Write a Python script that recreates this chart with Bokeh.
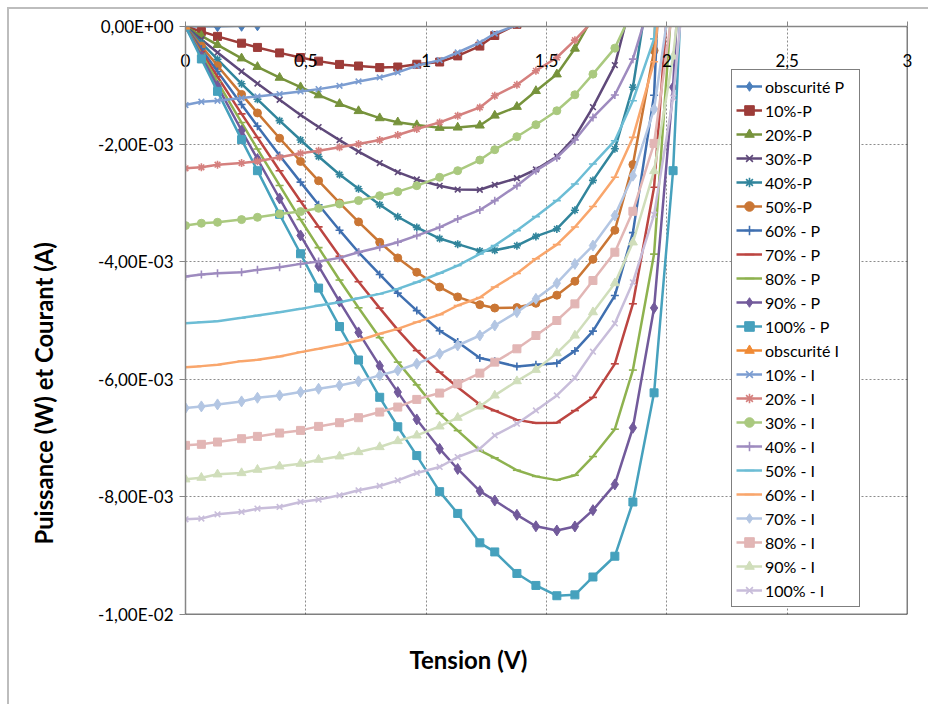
import numpy as np
from bokeh.plotting import figure
from bokeh.models import FixedTicker, Span, Title, LinearAxis
from bokeh.embed import file_html
from bokeh.resources import INLINE

# ---------------- data (voltage in V, power in mW, current in mA) ----------------
V = [0.0, 0.066, 0.133, 0.233, 0.299, 0.391, 0.478, 0.553, 0.640, 0.719, 0.807, 0.882,
     0.961, 1.056, 1.131, 1.223, 1.285, 1.377, 1.456, 1.543, 1.618, 1.693, 1.784, 1.859,
     1.947, 2.026, 2.100]

P_OBS = [0.0, 0.003, 0.006, 0.012, 0.02, 0.2, 0.5, 0.8, 1.2]
P_10 = [0.0, -0.085, -0.168, -0.284, -0.356, -0.449, -0.528, -0.589, -0.645, -0.672, -0.699,
        -0.689, -0.642, -0.604, -0.500, -0.333, -0.153, 0.037, 0.728]
P_20 = [0.0, -0.158, -0.313, -0.541, -0.686, -0.870, -1.031, -1.168, -1.315, -1.437, -1.558,
        -1.628, -1.676, -1.722, -1.717, -1.683, -1.514, -1.365, -1.096, -0.813, -0.375, 0.163,
        1.070]
P_30 = [0.0, -0.221, -0.443, -0.765, -0.970, -1.247, -1.505, -1.710, -1.932, -2.129, -2.322,
        -2.478, -2.601, -2.709, -2.773, -2.777, -2.692, -2.581, -2.432, -2.211, -1.879, -1.371,
        -0.657, 0.537, 2.921]
P_40 = [0.0, -0.279, -0.558, -0.974, -1.238, -1.601, -1.930, -2.211, -2.518, -2.760, -3.030,
        -3.236, -3.417, -3.606, -3.702, -3.816, -3.806, -3.728, -3.570, -3.442, -3.124, -2.617,
        -2.080, -1.032, 1.238, 5.065]
P_50 = [0.0, -0.332, -0.667, -1.155, -1.470, -1.900, -2.295, -2.624, -3.001, -3.323, -3.669,
        -3.936, -4.179, -4.431, -4.599, -4.731, -4.788, -4.780, -4.707, -4.569, -4.333, -3.960,
        -3.465, -2.348, -0.409, 8.104]
P_60 = [0.0, -0.381, -0.765, -1.326, -1.695, -2.194, -2.647, -3.031, -3.464, -3.840, -4.217,
        -4.535, -4.832, -5.174, -5.367, -5.638, -5.693, -5.783, -5.751, -5.725, -5.517, -5.181,
        -4.576, -3.506, -1.168, 6.078]
P_70 = [0.0, -0.426, -0.855, -1.486, -1.888, -2.453, -2.972, -3.407, -3.907, -4.340, -4.789,
        -5.159, -5.512, -5.878, -6.136, -6.427, -6.534, -6.690, -6.744, -6.737, -6.532, -6.308,
        -5.737, -4.716, -2.734, 1.641, 10.5]
P_80 = [0.0, -0.469, -0.940, -1.633, -2.084, -2.703, -3.283, -3.761, -4.312, -4.784, -5.292,
        -5.708, -6.095, -6.583, -6.872, -7.210, -7.335, -7.547, -7.651, -7.715, -7.632, -7.314,
        -6.849, -5.843, -3.871, 0.729, 10.5]
P_90 = [0.0, -0.506, -1.013, -1.769, -2.254, -2.925, -3.554, -4.074, -4.678, -5.203, -5.772,
        -6.218, -6.683, -7.182, -7.525, -7.902, -8.062, -8.305, -8.500, -8.571, -8.503, -8.225,
        -7.787, -6.824, -4.786, -1.033, 4.62]
P_100 = [0.0, -0.552, -1.103, -1.924, -2.452, -3.195, -3.865, -4.449, -5.103, -5.672, -6.306,
         -6.807, -7.297, -7.911, -8.281, -8.781, -8.936, -9.302, -9.506, -9.681, -9.666, -9.362,
         -9.009, -8.087, -6.230, -2.452, 3.99]

I_OBS = [0.0, 0.05, 0.12, 0.25, 0.4, 0.6, 0.9, 1.2, 1.6]
I_10 = [-1.336, -1.280, -1.263, -1.217, -1.189, -1.149, -1.104, -1.065, -1.008, -0.934, -0.866,
        -0.781, -0.668, -0.572, -0.442, -0.272, -0.119, 0.027, 0.5]
I_20 = [-2.412, -2.395, -2.350, -2.322, -2.293, -2.225, -2.157, -2.112, -2.055, -1.999, -1.931,
        -1.846, -1.744, -1.631, -1.518, -1.376, -1.178, -0.991, -0.753, -0.527, -0.232, 0.096,
        0.6]
I_30 = [-3.386, -3.346, -3.330, -3.284, -3.245, -3.188, -3.148, -3.092, -3.018, -2.961, -2.877,
        -2.809, -2.707, -2.565, -2.452, -2.271, -2.095, -1.874, -1.670, -1.433, -1.161, -0.810,
        -0.368, 0.289, 1.5]
I_40 = [-4.253, -4.219, -4.196, -4.179, -4.139, -4.094, -4.037, -3.998, -3.935, -3.839, -3.754,
        -3.669, -3.556, -3.415, -3.273, -3.120, -2.962, -2.707, -2.452, -2.231, -1.931, -1.546,
        -1.166, -0.555, 0.636, 2.5]
I_50 = [-5.045, -5.028, -5.011, -4.955, -4.915, -4.858, -4.802, -4.745, -4.689, -4.621, -4.547,
        -4.462, -4.349, -4.196, -4.066, -3.868, -3.726, -3.471, -3.233, -2.961, -2.678, -2.339,
        -1.942, -1.263, -0.21, 4.0]
I_60 = [-5.793, -5.776, -5.753, -5.691, -5.668, -5.612, -5.538, -5.481, -5.413, -5.340, -5.226,
        -5.142, -5.028, -4.900, -4.745, -4.61, -4.43, -4.20, -3.95, -3.71, -3.41, -3.06,
        -2.565, -1.886, -0.6, 3.0]
I_70 = [-6.489, -6.461, -6.427, -6.376, -6.314, -6.274, -6.217, -6.161, -6.104, -6.036, -5.934,
        -5.849, -5.736, -5.566, -5.425, -5.255, -5.085, -4.858, -4.632, -4.366, -4.037, -3.726,
        -3.216, -2.537, -1.404, 0.81, 5.0]
I_80 = [-7.123, -7.106, -7.067, -7.010, -6.971, -6.914, -6.869, -6.801, -6.738, -6.653, -6.557,
        -6.472, -6.342, -6.234, -6.076, -5.895, -5.708, -5.481, -5.255, -5.000, -4.717, -4.320,
        -3.839, -3.143, -1.988, 0.36, 5.0]
I_90 = [-7.701, -7.673, -7.616, -7.594, -7.537, -7.480, -7.435, -7.367, -7.310, -7.237, -7.152,
        -7.050, -6.954, -6.801, -6.653, -6.461, -6.274, -6.031, -5.838, -5.555, -5.255, -4.858,
        -4.365, -3.671, -2.458, -0.51, 2.2]
I_100 = [-8.381, -8.369, -8.296, -8.256, -8.199, -8.171, -8.086, -8.046, -7.973, -7.888, -7.814,
         -7.718, -7.593, -7.491, -7.322, -7.180, -6.954, -6.755, -6.529, -6.274, -5.974, -5.53,
         -5.05, -4.35, -3.20, -1.21, 1.9]

LABELS = ["obscurité P", "10%-P", "20%-P", "30%-P", "40%-P", "50%-P", "60% - P", "70% - P",
          "80% - P", "90% - P", "100% - P", "obscurité I", "10% - I", "20% - I", "30% - I",
          "40% - I", "50% - I", "60% - I", "70% - I", "80% - I", "90% - I", "100% - I"]
VALUES = [P_OBS, P_10, P_20, P_30, P_40, P_50, P_60, P_70, P_80, P_90, P_100,
          I_OBS, I_10, I_20, I_30, I_40, I_50, I_60, I_70, I_80, I_90, I_100]
COLORS = ["#4A7EBB", "#9D3C39", "#77933C", "#5F497A", "#31859C", "#CA7634", "#3F6FB0",
          "#BC4541", "#8EB24F", "#725A9B", "#46A1BD", "#F08A34", "#7C9DD1", "#D5807E",
          "#AAC97F", "#9E8BBF", "#6CBDD5", "#F9A66C", "#B3C6E3", "#E2B6B5", "#D0DEBB", "#C8BDDA"]
MARKERS = ["diamond", "square", "triangle", "x", "asterisk", "circle", "cross", "dash",
           "dash", "diamond", "square", "triangle", "x", "asterisk", "circle", "cross",
           "dash", "dash", "diamond", "square", "triangle", "x"]
MARKER_SIZES = {"diamond": 11, "square": 8, "triangle": 9, "x": 8, "asterisk": 8,
                "circle": 8, "cross": 8, "dash": 8}

XTICKS = [0, 0.5, 1, 1.5, 2, 2.5, 3]
XTICK_LABELS = ["0", "0,5", "1", "1,5", "2", "2,5", "3"]
YTICKS = [-0.01, -0.008, -0.006, -0.004, -0.002, 0]
YTICK_LABELS = ["-1,00E-02", "-8,00E-03", "-6,00E-03", "-4,00E-03", "-2,00E-03", "0,00E+00"]

FONT = "Lato"
AXIS_GRAY = "#868686"
FRAME_GRAY = "#bdbdbd"

p = figure(width=928, height=704, x_range=(0, 3), y_range=(-0.01, 0),
           output_backend="svg", toolbar_location=None, x_axis_location="above",
           min_border_left=185, min_border_right=21, min_border_top=26, min_border_bottom=90,
           background_fill_color="white", border_fill_color="white", border_fill_alpha=0,
           outline_line_color=None)

# outer chart border (drawn by the page element behind the transparent canvas border)
p.styles = {
    "background-color": "white",
    "background-image": f"linear-gradient({FRAME_GRAY}, {FRAME_GRAY}), "
                        f"linear-gradient({FRAME_GRAY}, {FRAME_GRAY})",
    "background-size": "2px 700px, 930px 2px",
    "background-position": "7px 7px, 7px 7px",
    "background-repeat": "no-repeat",
}

# grid
p.xgrid.ticker = FixedTicker(ticks=[0.5, 1, 1.5, 2, 2.5])
p.ygrid.ticker = FixedTicker(ticks=[-0.008, -0.006, -0.004, -0.002])
for g in (p.xgrid, p.ygrid):
    g.grid_line_color = "#8c8c8c"
    g.grid_line_dash = "2 2"
    g.grid_line_width = 1

# x axis on top, labels pushed below the axis line (inside the plot area)
xa = p.xaxis[0]
xa.ticker = FixedTicker(ticks=XTICKS)
xa.major_label_overrides = {t: s for t, s in zip(XTICKS, XTICK_LABELS)}
xa.major_label_text_font = FONT
xa.major_label_text_font_size = "17px"
xa.major_label_text_color = "black"
xa.major_label_standoff = -45
xa.axis_line_color = AXIS_GRAY
xa.axis_line_width = 1.5
xa.major_tick_line_color = AXIS_GRAY
xa.major_tick_out = 5
xa.major_tick_in = 0
xa.minor_tick_line_color = None

ya = p.yaxis[0]
ya.ticker = FixedTicker(ticks=YTICKS)
ya.major_label_overrides = {t: s for t, s in zip(YTICKS, YTICK_LABELS)}
ya.major_label_text_font = FONT
ya.major_label_text_font_size = "17px"
ya.major_label_text_color = "black"
ya.major_label_standoff = 6
ya.axis_line_color = AXIS_GRAY
ya.axis_line_width = 1.5
ya.major_tick_line_color = AXIS_GRAY
ya.major_tick_out = 6
ya.major_tick_in = 0
ya.minor_tick_line_color = None

# invisible spacer axis between the tick labels and the vertical title
spacer = LinearAxis(ticker=FixedTicker(ticks=[-0.005]), axis_line_color=None,
                    major_tick_line_color=None, minor_tick_line_color=None,
                    major_tick_out=16, minor_tick_out=0, major_tick_in=0, minor_tick_in=0,
                    major_label_standoff=0, major_label_overrides={-0.005: ""})
p.add_layout(spacer, "left")

# plot-area border right and bottom
p.add_layout(Span(location=3, dimension="height", line_color="black", line_width=1.5))
p.add_layout(Span(location=-0.01, dimension="width", line_color="black", line_width=1.5))

# series
for lab, vals, col, mk in zip(LABELS, VALUES, COLORS, MARKERS):
    xs = V[:len(vals)]
    ys = np.array(vals) * 1e-3
    p.line(xs, ys, line_color=col, line_width=2.5, legend_label=lab)
    if mk in ("x", "asterisk", "cross", "dash"):
        p.scatter(xs, ys, marker=mk, size=MARKER_SIZES[mk], line_color=col, line_width=1.6,
                  fill_color=None, legend_label=lab)
    else:
        p.scatter(xs, ys, marker=mk, size=MARKER_SIZES[mk], line_color=col, fill_color=col,
                  line_width=1, legend_label=lab)

# axis titles
p.add_layout(Title(text="Puissance (W) et Courant (A)", align="left", offset=70, standoff=40,
                   vertical_align="middle",
                   text_font=FONT, text_font_style="bold", text_font_size="23.8px",
                   text_color="black"), "left")
p.add_layout(Title(text="Tension (V)", align="left", offset=224, standoff=57,
                   text_font=FONT, text_font_style="bold", text_font_size="24px",
                   text_color="black"), "below")

leg = p.legend[0]
leg.location = (546, 7)
leg.border_line_color = "black"
leg.border_line_width = 1
leg.background_fill_color = "white"
leg.background_fill_alpha = 1
leg.label_text_font = FONT
leg.label_text_font_size = "16px"
leg.label_text_color = "black"
leg.glyph_width = 26
leg.glyph_height = 24
leg.label_height = 24
leg.spacing = 0
leg.padding = 4
leg.margin = 0
leg.label_standoff = 3
leg.label_width = 90

open("out.html", "w").write(file_html(p, INLINE))
